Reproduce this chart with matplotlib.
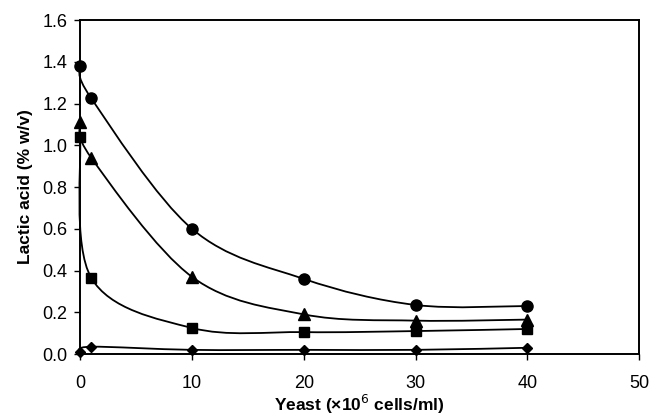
import numpy as np
import matplotlib
matplotlib.use("Agg")
import matplotlib.pyplot as plt
from matplotlib.path import Path
from matplotlib.patches import PathPatch

plt.rcParams['font.family'] = ['Liberation Sans', 'DejaVu Sans']

yeast = [0, 1, 10, 20, 30, 40]
circles = [1.38, 1.225, 0.60, 0.36, 0.235, 0.23]
triangles = [1.11, 0.94, 0.37, 0.19, 0.16, 0.165]
squares = [1.04, 0.365, 0.125, 0.105, 0.11, 0.12]
diamonds = [0.01, 0.035, 0.02, 0.02, 0.02, 0.03]


def smooth_path(x, y):
    # excel style smoothed line: bezier segments, catmull-rom control points
    p = np.column_stack([x, y]).astype(float)
    n = len(p)
    verts = [p[0]]
    codes = [Path.MOVETO]
    for i in range(n - 1):
        p0 = p[i - 1] if i > 0 else p[i]
        p3 = p[i + 2] if i + 2 < n else p[i + 1]
        c1 = p[i] + (p[i + 1] - p0) / 6.0
        c2 = p[i + 1] - (p3 - p[i]) / 6.0
        verts += [c1, c2, p[i + 1]]
        codes += [Path.CURVE4] * 3
    return Path(verts, codes)


fig = plt.figure(figsize=(6.51, 4.17), dpi=100)
ax = fig.add_axes([0.123, 0.151, 0.859, 0.801])

series = [(circles, 'o', 8), (triangles, '^', 8), (squares, 's', 7), (diamonds, 'D', 5.5)]
for vals, mk, ms in series:
    ax.add_patch(PathPatch(smooth_path(yeast, vals), facecolor='none',
                           edgecolor='black', lw=1.3, clip_on=False))
    ax.plot(yeast, vals, linestyle='none', marker=mk, ms=ms, color='black', clip_on=False, zorder=3)

ax.set_xlim(0, 50)
ax.set_ylim(0, 1.6)
ax.set_xticks([0, 10, 20, 30, 40, 50])
ax.set_yticks(np.arange(0, 1.61, 0.2))
ax.yaxis.set_major_formatter(matplotlib.ticker.FormatStrFormatter('%.1f'))
ax.tick_params(direction='out', length=4, width=1, labelsize=13)
ax.tick_params(axis='x', pad=11)
ax.tick_params(axis='y', pad=5)
for s in ax.spines.values():
    s.set_linewidth(1.4)

ax.set_xlabel('Yeast (\u00d710$^{6}$ cells/ml)', fontsize=12.5, fontweight='bold', labelpad=1)
ax.set_ylabel('Lactic acid (% w/v)', fontsize=12.5, fontweight='bold', labelpad=7)

fig.savefig('out.png', dpi=100)
